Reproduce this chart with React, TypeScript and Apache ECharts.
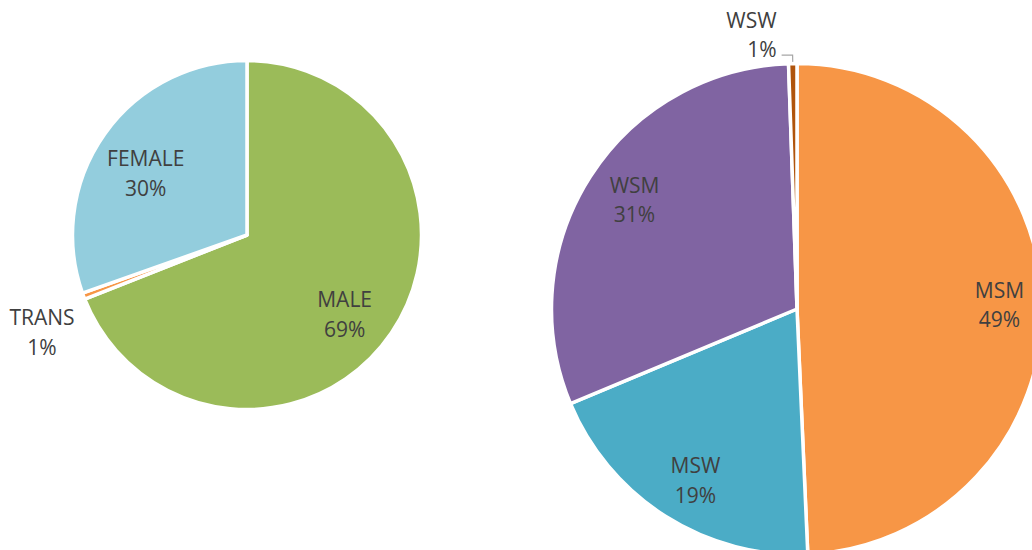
import React, { useEffect, useRef } from "react";
import * as echarts from "echarts";

const genderNames = ["MALE", "TRANS", "FEMALE"];
const genderValues = [69.0, 0.6, 30.4];
const genderColors = ["#9BBB59", "#F79646", "#93CDDD"];

const groupNames = ["MSM", "MSW", "WSM", "WSW"];
const groupValues = [49.3, 19.4, 30.75, 0.55];
const groupColors = ["#F79646", "#4BACC6", "#8064A2", "#B0540C"];

const FONT = "'Open Sans', sans-serif";
const TEXT = "#404040";

// small label nudges (style only), by category
const genderLabelNudge: Record<string, any> = {
  MALE: { dx: -7, dy: 8 },
  TRANS: { dx: -38, dy: 36.5, align: "center" },
  FEMALE: { dx: 2, dy: 11 },
};
const groupLabelNudge: Record<string, any> = {
  MSW: { dx: 7, dy: 0 },
  WSM: { dx: 8, dy: 0 },
};

export default function App() {
  const ref = useRef<HTMLDivElement>(null);
  useEffect(() => {
    document.body.style.margin = "0";
    const chart = echarts.init(ref.current!, null, { renderer: "svg" });

    const fmt = (p: any) => `${p.name}\n${Math.round(p.percent)}%`;
    const baseLabel = {
      color: TEXT,
      fontFamily: FONT,
      fontSize: 21,
      lineHeight: 29.5,
    };

    const visual = (center: number[], r: number, names: string[], values: number[], colors: string[]) => ({
      type: "pie",
      center,
      radius: [0, r],
      startAngle: 90,
      clockwise: true,
      silent: true,
      label: { show: false },
      labelLine: { show: false },
      itemStyle: { borderColor: "#ffffff", borderWidth: 3.5 },
      data: names.map((n, i) => ({ name: n, value: values[i], itemStyle: { color: colors[i] } })),
    });

    const option: any = {
      animation: false,
      backgroundColor: "#ffffff",
      series: [
        visual([247, 235], 174.5, genderNames, genderValues, genderColors),
        {
          type: "pie",
          center: [247, 235],
          radius: [74, 173],
          startAngle: 90,
          clockwise: true,
          silent: true,
          avoidLabelOverlap: false,
          itemStyle: { color: "transparent", borderWidth: 0 },
          label: { ...baseLabel, show: true, position: "inside", formatter: fmt },
          labelLine: { show: false },
          labelLayout: (p: any) => genderLabelNudge[genderNames[p.dataIndex]] || {},
          data: genderNames.map((n, i) => ({
            name: n,
            value: genderValues[i],
            ...(n === "TRANS"
              ? {
                  label: { position: "outside" },
                  labelLine: { show: false, length: 0, length2: 0 },
                }
              : {}),
          })),
        },
        visual([797, 309], 245.5, groupNames, groupValues, groupColors),
        {
          type: "pie",
          center: [797, 309],
          radius: [155, 244],
          startAngle: 90,
          clockwise: true,
          silent: true,
          avoidLabelOverlap: false,
          itemStyle: { color: "transparent", borderWidth: 0 },
          label: { ...baseLabel, show: true, position: "inside", formatter: fmt },
          labelLine: { show: false },
          labelLayout: (p: any) => groupLabelNudge[groupNames[p.dataIndex]] || {},
          data: groupNames.map((n, i) => ({
            name: n,
            value: groupValues[i],
            ...(n === "WSW"
              ? {
                  label: {
                    position: "outside",
                    formatter: (p: any) => `{t|${p.name}}\n{t|${Math.round(p.percent)}%}\n{e| }`,
                    rich: {
                      t: { ...baseLabel },
                      e: { fontSize: 1, lineHeight: 41 },
                    },
                  },
                  labelLine: {
                    show: true,
                    length: 10,
                    length2: 11,
                    lineStyle: { color: "#A6A6A6", width: 1.2 },
                  },
                }
              : {}),
          })),
        },
      ],
    };
    chart.setOption(option);
    return () => chart.dispose();
  }, []);
  return <div ref={ref} style={{ width: 1032, height: 550 }} />;
}
